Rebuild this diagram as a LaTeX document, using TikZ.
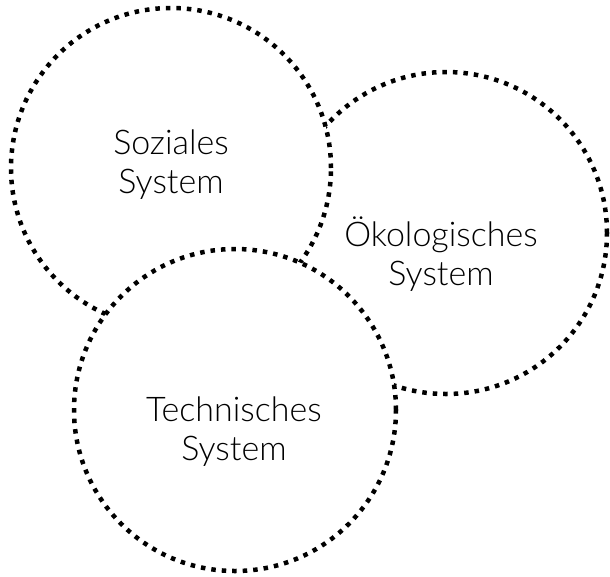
\documentclass[tikz,border=0pt]{standalone}
\usepackage{fontspec}
\setmainfont{Lato}[UprightFont=*-Light]
\begin{document}
\begin{tikzpicture}[x=1pt,y=-1pt,
  sys/.style={circle,draw=black,fill=white,line width=4.5pt,dash pattern=on 4.5pt off 6pt,inner sep=0pt},
  lbl/.style={align=center,inner sep=0pt,font=\fontsize{34}{39}\selectfont}]
\useasboundingbox (0,0) rectangle (610,576);
\node[sys,minimum size=322pt] (oek) at (446,233) {};
\node[sys,minimum size=320pt] (soz) at (171,168) {};
\node[sys,minimum size=322pt] (tech) at (235,410) {};
\node[lbl] (tsoz) at (171,165) {Soziales\\System};
\node[lbl] (toek) at (441,254) {Ökologisches\\System};
\node[lbl] (ttech) at (234,432) {Technisches\\System};
\end{tikzpicture}
\end{document}
